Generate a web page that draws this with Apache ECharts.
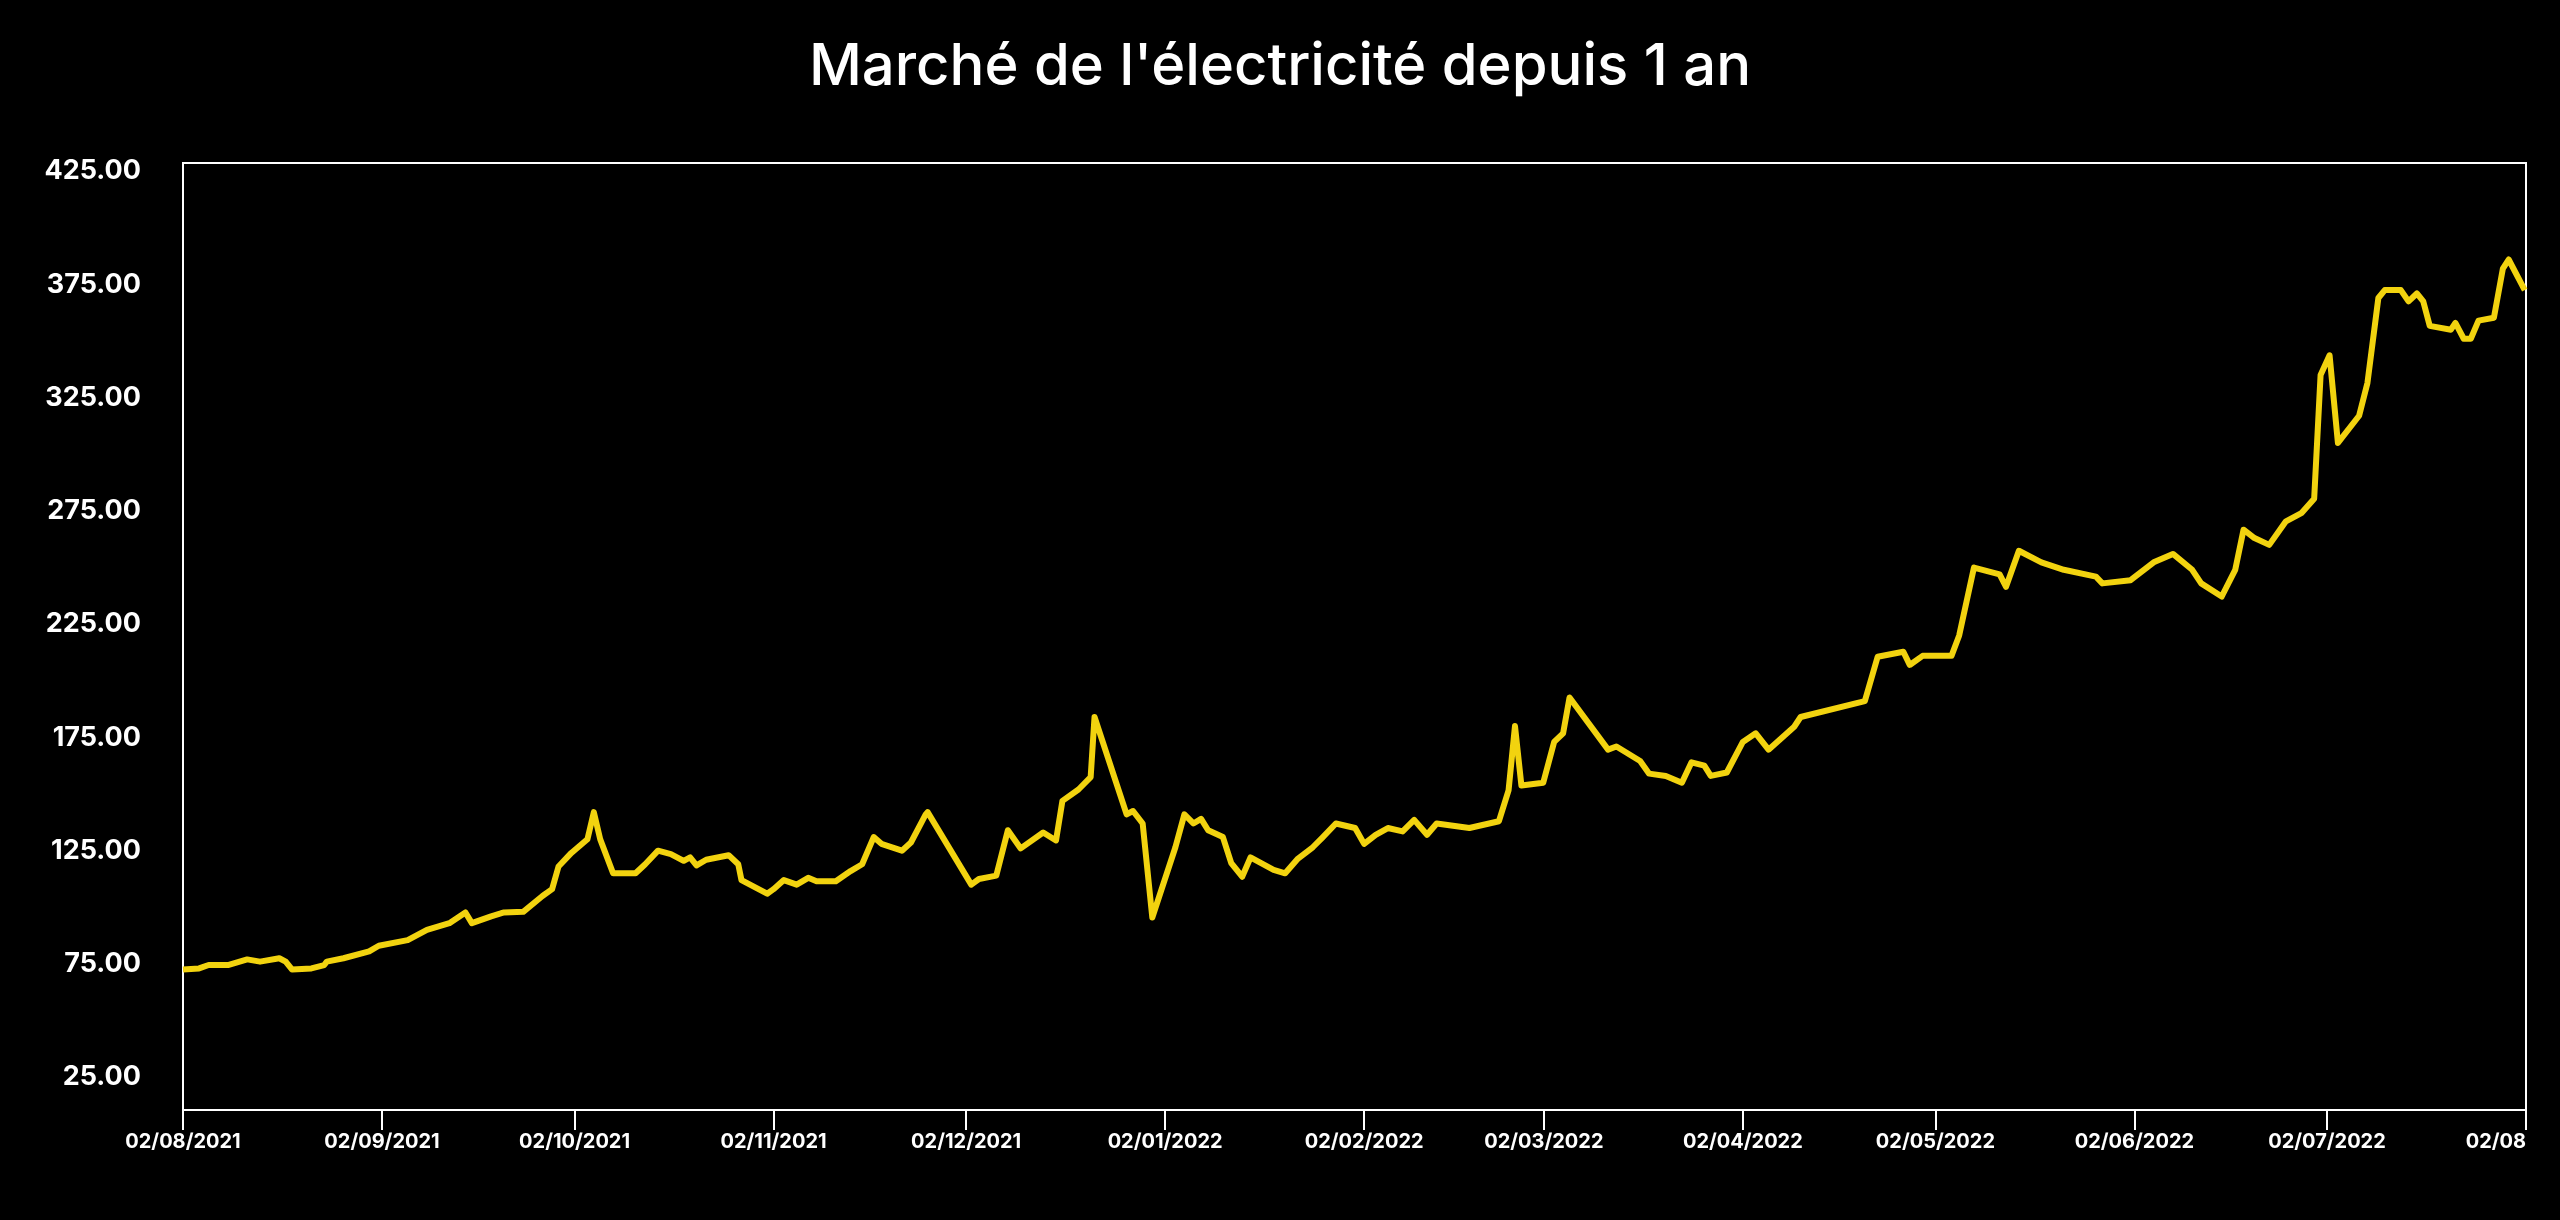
<!DOCTYPE html>
<html><head><meta charset="utf-8">
<script src="https://cdn.jsdelivr.net/npm/echarts@6/dist/echarts.min.js"></script>
<style>html,body{margin:0;padding:0;background:#000}#c{width:2560px;height:1220px}</style>
</head><body><div id="c"></div>
<script>
// Days since 02/08/2021 and price values
const dayOffsets = [0,2.5,4,7,10,12,15,16,17,20,22,22.4,25,29,30.5,35,38,41.5,44,45,48,50,53,56,57.5,58.5,60.5,63,64,65,67,70.5,72,74,76,78,79,80,81.5,85,86.5,87,91,92,93.6,95.6,97.4,98.7,101.7,104,105.8,107.6,108.8,112,113.4,115.7,116,122.8,124,126.7,128.5,130.5,134,136,137,139.5,141.4,142,147,148,149.5,151,154.6,156,157.4,158.6,159.7,162,163.3,165,166.3,169.9,171.7,173.7,176,177.5,179.6,182.6,184,185.8,187.7,190,191.8,193.8,195.3,200.4,205,206.5,207.5,208.5,211.9,213.6,215,216,222,223.3,227,228.4,231,233.5,235,237,238,240.5,243,245,247,251,252,262,264,268,269,271,275.5,276.7,279,283,284,286,289.5,293,298,299,303.4,307,310,313,314.4,317.6,319.7,321,322.7,325,327.6,330,332,333,334.4,335.7,339,340.3,342,343,345.5,346.7,348,349,350,353.3,354,355.3,356.4,357.6,360,361.4,362.3,364.8];
const prices = [72.5,73,74.5,74.5,77,76,77.5,76,72.5,73,74.5,76,77.5,80.5,83,85.5,90,93,97.7,93,96,97.7,98,105,108,118,124,130,142,130,115,115,119,125,123.5,120.5,122,118.5,121,123,119,112,106,108,112,110,113,111.5,111.5,116,119,131,128,125,128.6,141,142,110,112.5,114,134,126,133,129.5,147,152,157.5,184,141,142.5,137,95.5,126.5,141,137,139,134,131,119.5,113.5,122,116.5,115,121.5,126.5,130.8,137,135,128,132,135,133.5,138.6,132,137,135,138,151.6,180,153.8,155,173,176.8,192.6,169.6,171,164.6,159,158,155,164,162.5,158,159.5,173,176.8,169.6,179.7,184,191,210.6,212.8,207,211,211,220,250,247,241.5,257.4,252.3,249,246,243,244.4,252.3,256,249,243,237.2,249,266.7,263,260,270.4,274,280.4,335,343.7,305,317,331.5,369,372.5,372.5,367.5,371,367.5,356.7,355,358,351,351,359,360.3,382,386,372.5];
const yTickLabels = [25,75,125,175,225,275,325,375,425];
const monthTicks = ['2021-08-02','2021-09-02','2021-10-02','2021-11-02','2021-12-02','2022-01-02','2022-02-02','2022-03-02','2022-04-02','2022-05-02','2022-06-02','2022-07-02','2022-08-02'];

const DAY = 86400000;
const start = Date.UTC(2021,7,2);
const data = dayOffsets.map((d,i)=>[d, prices[i]]);
const tickVals = monthTicks.map(s=>{const p=s.split('-');return Math.round((Date.UTC(+p[0],+p[1]-1,+p[2])-start)/DAY);});
const end = tickVals[tickVals.length-1];
const labelFor = {};
monthTicks.forEach((s,i)=>{const p=s.split('-');labelFor[tickVals[i]] = i===monthTicks.length-1 ? p[2]+'/'+p[1] : p[2]+'/'+p[1]+'/'+p[0];});
const chart = echarts.init(document.getElementById('c'));
chart.setOption({
  backgroundColor:'#000',
  animation:false,
  title:{text:"Marché de l'électricité depuis 1 an", left:'center', top:34,
    textStyle:{color:'#fff', fontFamily:'Inter', fontWeight:500, fontSize:58}},
  grid:{left:183,right:34,top:163,bottom:110,show:true,borderColor:'#fff',borderWidth:2,containLabel:false},
  xAxis:{type:'value',min:0,max:end,
    axisLine:{lineStyle:{color:'#fff',width:2}},
    axisTick:{show:true,customValues:tickVals,length:20,lineStyle:{color:'#fff',width:2}},
    splitLine:{show:false},
    axisLabel:{customValues:tickVals,color:'#fff',fontFamily:'Inter',fontWeight:'bold',fontSize:20,margin:22,
      showMaxLabel:true,alignMaxLabel:'right',
      formatter:v=>labelFor[Math.round(v)]||''}},
  yAxis:{type:'value',min:10.5,max:428.6,
    axisLine:{show:true,lineStyle:{color:'#fff',width:2}},
    axisTick:{show:false},splitLine:{show:false},
    axisLabel:{customValues:yTickLabels,color:'#fff',fontFamily:'Inter',fontWeight:'bold',fontSize:27,margin:42,
      formatter:v=>v.toFixed(2)}},
  series:[{type:'line',data:data,showSymbol:false,lineStyle:{color:'#f2d30f',width:6,join:'round'}}]
});
</script></body></html>
